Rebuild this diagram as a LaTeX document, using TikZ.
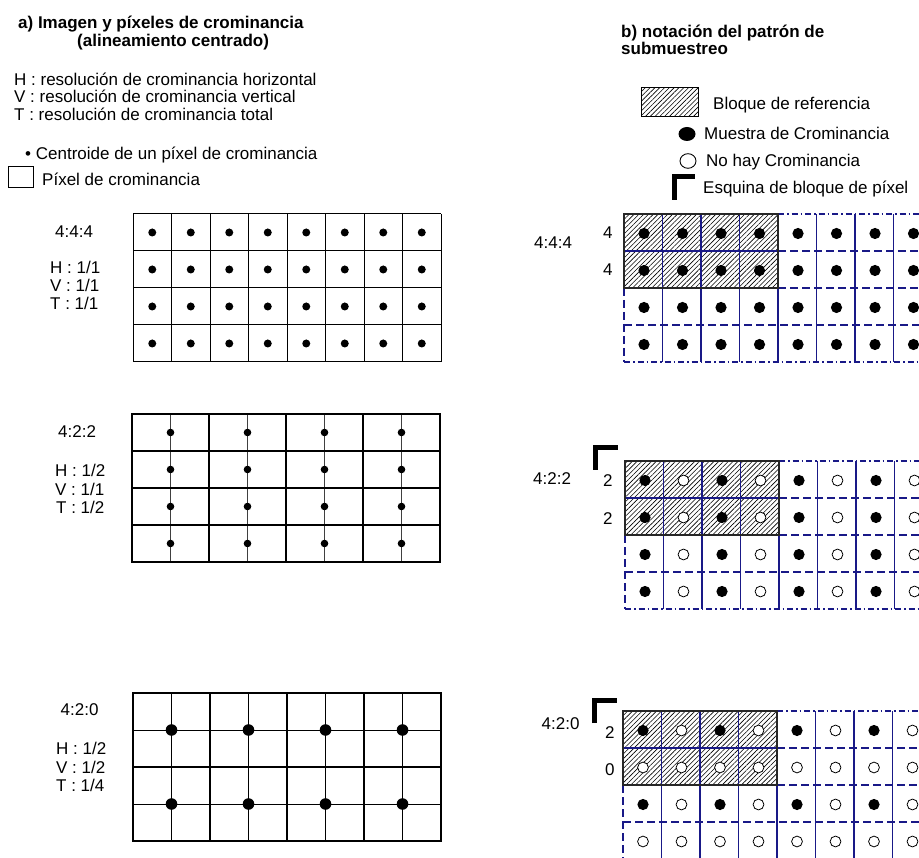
\documentclass[tikz,border=0pt]{standalone}
\usepackage{fontspec}
\setmainfont{Liberation Sans}
\usetikzlibrary{patterns.meta}
\definecolor{navy}{RGB}{25,25,135}
\begin{document}
\begin{tikzpicture}[x=1pt,y=-1pt,
  txt/.style={inner sep=0pt,anchor=base west,font=\fontsize{17}{20}\selectfont},
  btxt/.style={txt,font=\fontsize{17}{20}\selectfont\bfseries},
  thinline/.style={line width=1pt,draw=black},
  thickline/.style={line width=2.2pt,draw=black},
  midline/.style={line width=1pt,draw=black!75},
  navyline/.style={draw=navy,line width=1.1pt},
  dashdotnavy/.style={navyline,dash pattern=on 6pt off 3pt on 1.5pt off 3pt},
  dashnavy/.style={navyline,dash pattern=on 8pt off 4pt},
  blockline/.style={draw=black!85,line width=1.5pt},
  fdot/.style={fill=black},
  odot/.style={draw=black,fill=white,line width=0.8pt},
  hatch/.style={pattern={Lines[angle=45,distance=3.4pt,line width=0.6pt]}},
  corner/.style={line width=5pt,line cap=butt,line join=miter}
]
\clip (0,0) rectangle (919,858);
\fill[white] (0,0) rectangle (919,858);

% ---------------- left header ----------------
\node[btxt] (ta1) at (18,29) {a) Imagen y píxeles de crominancia};
\node[btxt] (ta2) at (77,46.5) {(alineamiento centrado)};
\node[txt] (lh) at (14,85.5) {H : resolución de crominancia horizontal};
\node[txt] (lv) at (14,103) {V : resolución de crominancia vertical};
\node[txt] (lt) at (14,120.5) {T : resolución de crominancia total};
\node[txt] (lcen) at (25,160) {• Centroide de un píxel de crominancia};
\node[draw,line width=1pt,minimum width=25pt,minimum height=21pt,inner sep=0pt] (pixbox) at (20.5,177.5) {};
\node[txt] (lpix) at (42,185.5) {Píxel de crominancia};

% ---------------- right header ----------------
\node[btxt] (tb1) at (621,38) {b) notación del patrón de};
\node[btxt] (tb2) at (621,55) {submuestreo};
\draw[hatch,line width=1pt] (641,88) rectangle (698,117);
\node[txt] (lref) at (713,110) {Bloque de referencia};
\fill[black] (687,134) ellipse [x radius=8.5,y radius=7];
\node[txt] (lmue) at (704,139.5) {Muestra de Crominancia};
\draw[line width=0.9pt,fill=white] (688,161) ellipse [x radius=8,y radius=7.3];
\node[txt] (lno) at (706,167) {No hay Crominancia};
\draw[corner] (674.5,200) |- (695,176.5);
\node[txt] (lesq) at (703,194) {Esquina de bloque de píxel};

% ---------------- left 4:4:4 ----------------
\node[txt] (a444) at (55,238) {4:4:4};
\node[txt] (a444h) at (50,273.5) {H : 1/1};
\node[txt] (a444v) at (50,291.5) {V : 1/1};
\node[txt] (a444t) at (50,309.5) {T : 1/1};
\begin{scope}[shift={(133,214)}]
  \foreach \i in {0,...,8} \draw[thinline] (\i*38.5,0) -- (\i*38.5,148);
  \foreach \j in {0,...,4} \draw[thinline] (0,\j*37) -- (308,\j*37);
  \foreach \i in {0,...,7} \foreach \j in {0,...,3}
    \fill (\i*38.5+19.25,\j*37+18.5) circle[radius=4];
\end{scope}

% ---------------- left 4:2:2 ----------------
\node[txt] (a422) at (58,438) {4:2:2};
\node[txt] (a422h) at (55,477) {H : 1/2};
\node[txt] (a422v) at (55,495.5) {V : 1/1};
\node[txt] (a422t) at (56,514) {T : 1/2};
\begin{scope}[shift={(132,414)}]
  \foreach \k in {0,...,3} \draw[midline] (\k*77+38.5,0) -- (\k*77+38.5,148);
  \foreach \k in {0,...,4} \draw[thickline] (\k*77,0) -- (\k*77,148);
  \foreach \j in {0,...,4} \draw[thickline,line cap=rect] (0,\j*37) -- (308,\j*37);
  \foreach \k in {0,...,3} \foreach \j in {0,...,3}
    \fill (\k*77+38.5,\j*37+18.5) circle[radius=3.8];
\end{scope}

% ---------------- left 4:2:0 ----------------
\node[txt] (a420) at (60.5,715) {4:2:0};
\node[txt] (a420h) at (56,754) {H : 1/2};
\node[txt] (a420v) at (56,773) {V : 1/2};
\node[txt] (a420t) at (56,791.5) {T : 1/4};
\begin{scope}[shift={(133,693)}]
  \foreach \k in {0,...,3} \draw[thinline] (\k*77+38.5,0) -- (\k*77+38.5,148);
  \foreach \j in {37,111} \draw[thinline] (0,\j) -- (308,\j);
  \foreach \k in {0,...,4} \draw[thickline] (\k*77,0) -- (\k*77,148);
  \foreach \j in {0,74,148} \draw[thickline,line cap=rect] (0,\j) -- (308,\j);
  \foreach \k in {0,...,3} \foreach \j in {0,1}
    \fill (\k*77+38.5,\j*74+37) circle[radius=5.8];
\end{scope}

% ---------------- right grids ----------------
\newcommand{\rightgridlines}{%
  \fill[hatch] (0,0) rectangle (154,74);
  \foreach \i in {1,...,8} \draw[navyline] (\i*38.5,0) -- (\i*38.5,148);
  \draw[dashnavy] (0,74) -- (0,148);
  \draw[dashdotnavy] (154,0) -- (320,0);
  \draw[navyline] (0,37) -- (154,37);
  \draw[dashnavy] (154,37) -- (320,37);
  \draw[dashnavy] (154,74) -- (320,74);
  \draw[dashnavy] (0,111) -- (320,111);
  \draw[dashdotnavy] (0,148) -- (320,148);
  \draw[blockline] (0,0) rectangle (154,74);
}

% 4:4:4
\node[txt] (b444) at (534,249) {4:4:4};
\node[txt] (b444a) at (603,239) {4};
\node[txt] (b444b) at (603,276) {4};
\begin{scope}[shift={(624,214)}]
  \rightgridlines
  \foreach \i in {0,...,7} \foreach \j in {0,...,3}
    \fill[fdot] (\i*38.5+20,\j*37+19.5) circle[radius=5.6];
\end{scope}

% 4:2:2
\node[txt] (b422) at (533,485) {4:2:2};
\node[txt] (b422a) at (603,487) {2};
\node[txt] (b422b) at (603,525) {2};
\draw[corner] (595.5,470) |- (618,447.5);
\begin{scope}[shift={(625,461)}]
  \rightgridlines
  \foreach \i in {0,2,4,6} \foreach \j in {0,...,3}
    \fill[fdot] (\i*38.5+20,\j*37+19.5) circle[radius=5.6];
  \foreach \i in {1,3,5,7} \foreach \j in {0,...,3}
    \draw[odot] (\i*38.5+20,\j*37+19.5) circle[radius=5.4];
\end{scope}

% 4:2:0
\node[txt] (b420) at (541.5,729) {4:2:0};
\node[txt] (b420a) at (605,738) {2};
\node[txt] (b420b) at (605,775) {0};
\draw[corner] (594.5,723) |- (617,700.5);
\begin{scope}[shift={(623,711)}]
  \rightgridlines
  \foreach \i in {0,2,4,6} \foreach \j in {0,2}
    \fill[fdot] (\i*38.5+20,\j*37+19.5) circle[radius=5.6];
  \foreach \i in {1,3,5,7} \foreach \j in {0,2}
    \draw[odot] (\i*38.5+20,\j*37+19.5) circle[radius=5.4];
  \foreach \i in {0,...,7} \foreach \j in {1,3}
    \draw[odot] (\i*38.5+20,\j*37+19.5) circle[radius=5.4];
\end{scope}
\end{tikzpicture}
\end{document}
